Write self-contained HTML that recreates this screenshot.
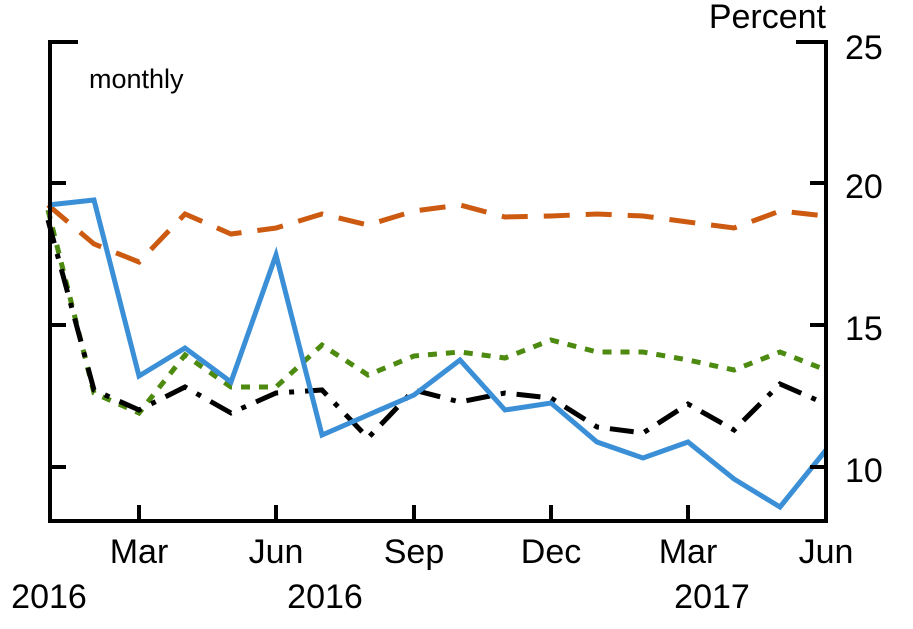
<!DOCTYPE html>
<html><head><meta charset="utf-8"><style>
html,body{margin:0;padding:0;background:#fff;}
svg{display:block;}
text{font-family:"Liberation Sans",sans-serif;fill:#000;}
</style></head><body>
<svg width="913" height="629" viewBox="0 0 913 629" xmlns="http://www.w3.org/2000/svg">
<g fill="none" stroke-linejoin="miter" stroke-width="5">
<polyline stroke="#cc5a10" stroke-dasharray="26,16" points="48,205 94,244 139,262 185,214 231,234 276,228 322,214 368,225 414,211 460,205 505,217 551,216 597,214 643,216 688,222 734,228 780,211 826,216"/>
<polyline stroke="#4d8a10" stroke-dasharray="9,9" points="48,210 94,393 139,413 185,355 231,387 276,387 322,345 368,375 414,356 460,352 505,358 551,340 597,352 643,352 688,360 734,370 780,352 826,370"/>
<polyline stroke="#000" stroke-dasharray="24,11,5,11" points="48,220 94,390 139,410 185,387 231,413 276,393 322,390 368,438 414,390 460,402 505,393 551,398 597,427 643,433 688,404 734,430 780,384 826,404"/>
<polyline stroke="#3a8fd6" points="48,205 94,200 139,376 185,348 231,382 276,255 322,435 368,415 414,395 460,360 505,410 551,403 597,442 643,458 688,442 734,479 780,507 826,450"/>
</g>
<g stroke="#000" stroke-width="4" fill="none">
<polyline points="78,42 50,42 50,521 826,521 826,42 796,42"/>
<line x1="50" y1="183" x2="66" y2="183"/><line x1="50" y1="325" x2="66" y2="325"/><line x1="50" y1="467" x2="66" y2="467"/>
<line x1="826" y1="183" x2="810" y2="183"/><line x1="826" y1="325" x2="810" y2="325"/><line x1="826" y1="467" x2="810" y2="467"/>
<line x1="139" y1="521" x2="139" y2="505"/><line x1="276" y1="521" x2="276" y2="505"/><line x1="414" y1="521" x2="414" y2="505"/><line x1="551" y1="521" x2="551" y2="505"/><line x1="688" y1="521" x2="688" y2="505"/>
</g>
<g font-size="34">
<text x="826" y="28" text-anchor="end">Percent</text>
<text x="845" y="59">25</text>
<text x="845" y="198">20</text>
<text x="845" y="340">15</text>
<text x="845" y="482">10</text>
<text x="139" y="563" text-anchor="middle">Mar</text>
<text x="276" y="563" text-anchor="middle">Jun</text>
<text x="414" y="563" text-anchor="middle">Sep</text>
<text x="551" y="563" text-anchor="middle">Dec</text>
<text x="688" y="563" text-anchor="middle">Mar</text>
<text x="826" y="563" text-anchor="middle">Jun</text>
<text x="49" y="608" text-anchor="middle">2016</text>
<text x="325" y="608" text-anchor="middle">2016</text>
<text x="712" y="608" text-anchor="middle">2017</text>
</g>
<text x="89" y="88" font-size="27">monthly</text>
</svg>
</body></html>
